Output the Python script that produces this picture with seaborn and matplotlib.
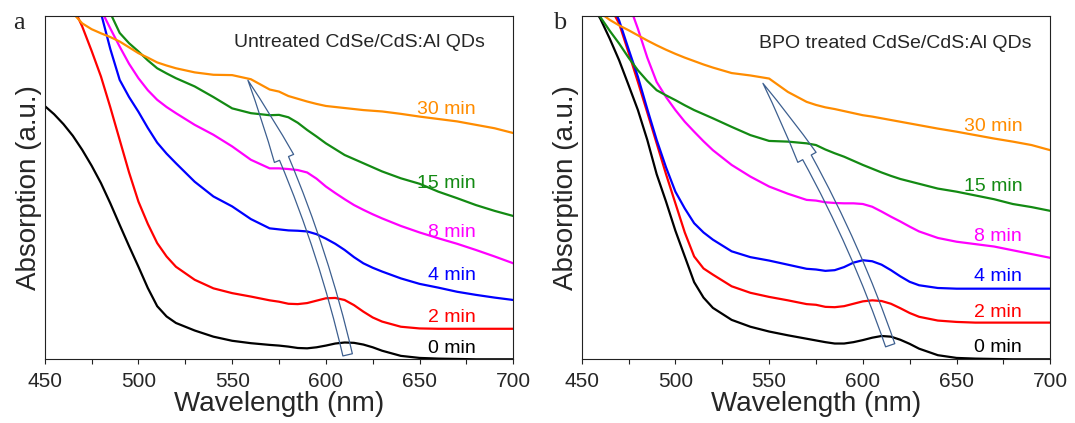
import matplotlib
matplotlib.use("Agg")
import matplotlib.pyplot as plt
from matplotlib.ticker import MultipleLocator
import pandas as pd
import seaborn as sns

# wavelength grid (nm), shared by all curves
wavelength = [450, 455, 460, 465, 470, 475, 480, 485, 490, 495, 500, 505, 510, 515, 520,
              530, 540, 550, 560, 570,
              575, 580, 585, 590, 595, 600, 605, 610, 615, 620, 625, 630,
              640, 650, 660, 670, 680, 690, 700]

times = ["0 min", "2 min", "4 min", "8 min", "15 min", "30 min"]
colors = ["#000000", "#ff0000", "#0000ff", "#ff00ff", "#138a13", "#ff8c00"]

# panel a: untreated (absorption in a.u., 0 = bottom of axes, 1 = top)
untreated_0 = [.739, .715, .686, .652, .611, .565, .514, .455, .392, .330, .270, .208, .155, .125, .106,
               .084, .066, .054, .047, .042,
               .040, .037, .033, .032, .035, .040, .046, .049, .048, .043, .035, .025,
               .010, .004, .002, .001, 0, 0, 0]
untreated_2 = [1.25, 1.18, 1.10, 1.03, .971, .900, .825, .735, .640, .545, .460, .395, .339, .300, .270,
               .232, .207, .193, .183, .172,
               .168, .162, .161, .164, .171, .178, .179, .173, .158, .139, .122, .110,
               .095, .090, .089, .089, .089, .089, .089]
untreated_4 = [1.50, 1.40, 1.30, 1.22, 1.14, 1.07, 1.01, .905, .815, .765, .722, .675, .632, .600, .572,
               .518, .475, .446, .409, .382,
               .379, .376, .375, .373, .365, .352, .337, .319, .298, .280, .267, .256,
               .236, .220, .209, .197, .188, .180, .173]
untreated_8 = [1.40, 1.32, 1.25, 1.18, 1.12, 1.07, 1.02, .965, .912, .862, .820, .785, .757, .736, .718,
               .684, .655, .621, .582, .557,
               .557, .555, .552, .545, .527, .504, .485, .467, .450, .436, .423, .411,
               .389, .370, .353, .337, .319, .300, .280]
untreated_15 = [1.30, 1.25, 1.20, 1.16, 1.12, 1.08, 1.045, 1.01, .952, .922, .898, .872, .849, .834, .820,
                .796, .765, .732, .718, .712,
                .713, .706, .690, .669, .650, .630, .613, .596, .584, .572, .560, .548,
                .528, .512, .489, .470, .450, .433, .418]
untreated_30 = [1.10, 1.07, 1.04, 1.01, .980, .963, .951, .940, .927, .910, .893, .880, .866, .857, .849,
                .837, .830, .829, .817, .787,
                .781, .768, .760, .752, .745, .739, .736, .733, .730, .727, .725, .723,
                .716, .708, .701, .694, .684, .674, .660]

# panel b: BPO treated
bpo_0 = [1.08, 1.04, .993, .935, .872, .800, .727, .640, .540, .460, .375, .300, .225, .180, .150,
         .115, .095, .081, .070, .060,
         .055, .050, .046, .046, .050, .056, .063, .068, .066, .057, .045, .031,
         .012, .004, .002, .001, 0, 0, 0]
bpo_2 = [1.20, 1.14, 1.08, 1.03, .979, .895, .809, .720, .630, .540, .455, .370, .300, .265, .247,
         .213, .194, .182, .172, .161,
         .159, .153, .152, .155, .162, .169, .172, .170, .162, .149, .135, .124,
         .113, .109, .107, .107, .107, .107, .107]
bpo_4 = [1.25, 1.18, 1.12, 1.05, .988, .905, .824, .730, .640, .560, .489, .440, .397, .370, .349,
         .315, .298, .288, .276, .264,
         .262, .258, .260, .269, .282, .289, .286, .276, .260, .242, .226, .216,
         .208, .206, .206, .206, .206, .206, .206]
bpo_8 = [1.35, 1.28, 1.21, 1.14, 1.09, 1.04, .964, .880, .809, .765, .727, .693, .664, .636, .610,
         .567, .533, .504, .483, .465,
         .463, .458, .456, .455, .455, .453, .445, .431, .416, .402, .387, .373,
         .354, .343, .336, .329, .318, .307, .296]
bpo_15 = [1.08, 1.04, .998, .958, .921, .880, .843, .812, .785, .770, .756, .741, .727, .715, .703,
          .678, .654, .637, .635, .630,
          .625, .612, .601, .591, .579, .567, .556, .545, .535, .526, .519, .512,
          .498, .489, .478, .467, .453, .444, .433]
bpo_30 = [1.06, 1.03, 1.01, .990, .974, .960, .945, .930, .916, .903, .891, .880, .870, .860, .851,
          .835, .828, .819, .780, .751,
          .742, .735, .730, .724, .718, .712, .708, .703, .698, .693, .688, .683,
          .673, .664, .654, .644, .635, .625, .610]

# curve label heights (a.u.)
untreated_label_y = [.032, .123, .243, .370, .514, .728]
bpo_label_y = [.034, .136, .242, .359, .504, .680]


def make_frame(series):
    rows = []
    for t, vals in zip(times, series):
        for w, v in zip(wavelength, vals):
            rows.append({"wavelength": w, "absorption": v, "time": t})
    return pd.DataFrame(rows)


panels = [
    dict(df=make_frame([untreated_0, untreated_2, untreated_4, untreated_8, untreated_15, untreated_30]),
         title="Untreated CdSe/CdS:Al QDs", title_x=685, title_y=.925,
         label_x=680, label_y=untreated_label_y,
         arrow_tail=(611.6, .013), arrow_head=(558.4, .814), letter="a", letter_x=0.018),
    dict(df=make_frame([bpo_0, bpo_2, bpo_4, bpo_8, bpo_15, bpo_30]),
         title="BPO treated CdSe/CdS:Al QDs", title_x=690, title_y=.921,
         label_x=685, label_y=bpo_label_y,
         arrow_tail=(614.6, .041), arrow_head=(546.7, .805), letter="b", letter_x=0.521),
]

sns.set_theme(style="ticks")
plt.rcParams["font.family"] = ["Liberation Sans", "DejaVu Sans"]

fig = plt.figure(figsize=(10.75, 4.23), dpi=100)
positions = [[0.0416, 0.1506, 0.4359, 0.8104], [0.5411, 0.1506, 0.4359, 0.8104]]

for pos, p in zip(positions, panels):
    ax = fig.add_axes(pos)
    sns.lineplot(data=p["df"], x="wavelength", y="absorption", hue="time",
                 hue_order=times, palette=colors, linewidth=1.6,
                 estimator=None, legend=False, ax=ax)
    ax.set_xlim(450, 700)
    ax.set_ylim(0, 1)
    ax.xaxis.set_major_locator(MultipleLocator(50))
    ax.xaxis.set_minor_locator(MultipleLocator(25))
    ax.tick_params(axis="x", which="both", direction="out", length=3.5, width=0.8,
                   labelsize=15, pad=6, color="#222222")
    ax.set_yticks([])
    for s in ax.spines.values():
        s.set_linewidth(0.8)
        s.set_color("#222222")
    ax.set_xlabel("Wavelength (nm)", fontsize=20, labelpad=0)
    ax.set_ylabel("Absorption (a.u.)", fontsize=20, labelpad=2)

    ax.text(p["title_x"], p["title_y"], p["title"], fontsize=14, ha="right", va="center")
    for t, c, y in zip(times, colors, p["label_y"]):
        ax.text(p["label_x"], y, t, color=c, fontsize=14, ha="right", va="center")

    # hollow arrow showing the red shift of the exciton peak
    ax.annotate("", xy=p["arrow_head"], xytext=p["arrow_tail"],
                arrowprops=dict(arrowstyle="simple,head_length=62,head_width=15,tail_width=7",
                                connectionstyle="arc3,rad=0.06", mutation_scale=1,
                                fc="none", ec="#3d5f8f", lw=0.9, shrinkA=0, shrinkB=0))

    fig.text(p["letter_x"], 0.946, p["letter"], fontsize=19, family="Liberation Serif",
             ha="center", va="center")

fig.savefig("out.png", dpi=100)
